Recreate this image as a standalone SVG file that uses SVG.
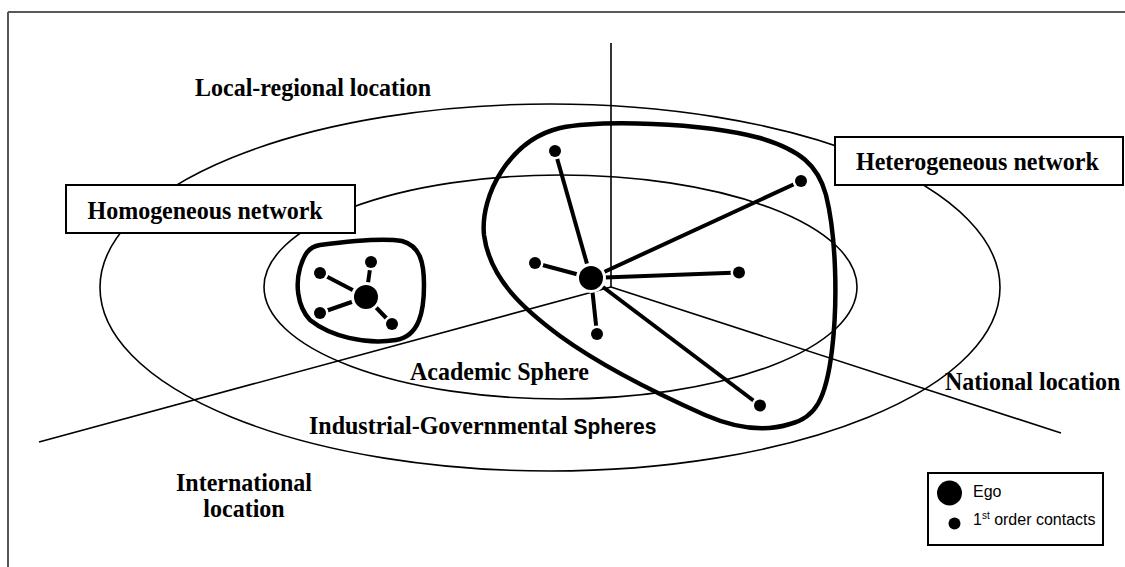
<svg xmlns="http://www.w3.org/2000/svg" width="1125" height="567" viewBox="0 0 1125 567">
<style>
.lbl{font-family:"Liberation Serif","Times New Roman",serif;font-weight:bold;font-size:24px;fill:#000}
.sans{font-family:"Liberation Sans",Arial,sans-serif}
.thin{fill:none;stroke:#000;stroke-width:1.6}
.box{fill:#fff;stroke:#000;stroke-width:2}
.blob{fill:none;stroke:#000;stroke-width:4.5;stroke-linejoin:round}
.edge{stroke:#000;stroke-width:4}
.ego{fill:#000;stroke:#fff;stroke-width:6;paint-order:stroke}
.contact{fill:#000;stroke:#fff;stroke-width:5;paint-order:stroke}
.leg{font-family:"Liberation Sans",Arial,sans-serif;font-size:16px;fill:#000}
</style>
<rect x="0" y="0" width="1125" height="567" fill="#fff"/>
<g id="frame">
<line x1="8" y1="12" x2="1125" y2="12" stroke="#222" stroke-width="1.5"/>
<line x1="8" y1="12" x2="8" y2="567" stroke="#555" stroke-width="2"/>
</g>
<g id="spheres">
<ellipse id="industrial-governmental" class="thin" cx="550" cy="287.5" rx="450" ry="183.5"/>
<ellipse id="academic" class="thin" cx="560.5" cy="287" rx="296.5" ry="112"/>
</g>
<g id="location-axes">
<line class="thin" x1="611" y1="43" x2="611" y2="287"/>
<line class="thin" x1="611" y1="287" x2="39" y2="442"/>
<line class="thin" x1="611" y1="287" x2="1061" y2="433"/>
</g>
<g id="homogeneous-label">
<rect class="box" x="66" y="185" width="289" height="48"/>
<text class="lbl" transform="translate(87.5,219) scale(1,1.06)">Homogeneous network</text>
</g>
<g id="heterogeneous-label">
<rect class="box" x="835" y="137" width="288" height="48"/>
<text class="lbl" transform="translate(856,169.5) scale(1,1.06)">Heterogeneous network</text>
</g>
<g id="homogeneous-network">
<path class="blob" d="M 320,245 C 350,241 385,238 402,241 C 420,246 424,262 424,285 C 424,310 420,336 396,340 C 365,345 330,336 310,320 C 296,305 296,282 300,268 C 304,255 308,247 320,245 Z"/>
</g>
<g id="heterogeneous-network">
<path class="blob" d="M 560,128 C 600,120 700,122 760,138 C 800,150 818,165 826,195 C 836,235 838,300 832,350 C 826,400 815,418 790,424 C 765,432 735,428 705,415 C 660,395 600,365 560,336 C 525,310 490,280 484,235 C 480,195 510,140 560,128 Z"/>
</g>
<g id="connectors">
<line class="edge" x1="366" y1="297" x2="320" y2="273"/>
<line class="edge" x1="366" y1="297" x2="371" y2="262"/>
<line class="edge" x1="366" y1="297" x2="320" y2="313"/>
<line class="edge" x1="366" y1="297" x2="392" y2="324"/>
<line class="edge" x1="591" y1="278" x2="555" y2="151"/>
<line class="edge" x1="591" y1="278" x2="801" y2="181"/>
<line class="edge" x1="591" y1="278" x2="535" y2="263"/>
<line class="edge" x1="591" y1="278" x2="739" y2="272.5"/>
<line class="edge" x1="591" y1="278" x2="597" y2="334"/>
<line class="edge" x1="591" y1="278" x2="760" y2="405.5"/>
</g>
<g id="homogeneous-nodes">
<circle class="ego" cx="366" cy="297" r="12"/>
<circle class="contact" cx="320" cy="273" r="6"/>
<circle class="contact" cx="371" cy="262" r="6"/>
<circle class="contact" cx="320" cy="313" r="6"/>
<circle class="contact" cx="392" cy="324" r="6"/>
</g>
<g id="heterogeneous-nodes">
<circle class="ego" cx="591" cy="278" r="12"/>
<circle class="contact" cx="555" cy="151" r="6"/>
<circle class="contact" cx="801" cy="181" r="6"/>
<circle class="contact" cx="535" cy="263" r="6"/>
<circle class="contact" cx="739" cy="272.5" r="6"/>
<circle class="contact" cx="597" cy="334" r="6"/>
<circle class="contact" cx="760" cy="405.5" r="6"/>
</g>
<g id="labels">
<text class="lbl" transform="translate(195,96) scale(1,1.06)">Local-regional location</text>
<text class="lbl" transform="translate(410,380) scale(1,1.06)">Academic Sphere</text>
<text class="lbl" transform="translate(309,434) scale(1,1.06)">Industrial-Governmental <tspan class="sans" font-size="21px">Spheres</tspan></text>
<text class="lbl" transform="translate(945,390) scale(1,1.06)">National location</text>
<text class="lbl" text-anchor="middle" transform="translate(244,491) scale(1,1.06)">International</text>
<text class="lbl" text-anchor="middle" transform="translate(244,517) scale(1,1.06)">location</text>
</g>
<g id="legend">
<rect x="928" y="473" width="175" height="72" fill="#fff" stroke="#000" stroke-width="2"/>
<circle cx="949.5" cy="493" r="12.5" fill="#000"/>
<circle cx="954.5" cy="523.5" r="6" fill="#000"/>
<text class="leg" x="973" y="497">Ego</text>
<text class="leg" x="973" y="525">1<tspan font-size="10px" dy="-6">st</tspan><tspan dy="6"> order contacts</tspan></text>
</g>
</svg>
